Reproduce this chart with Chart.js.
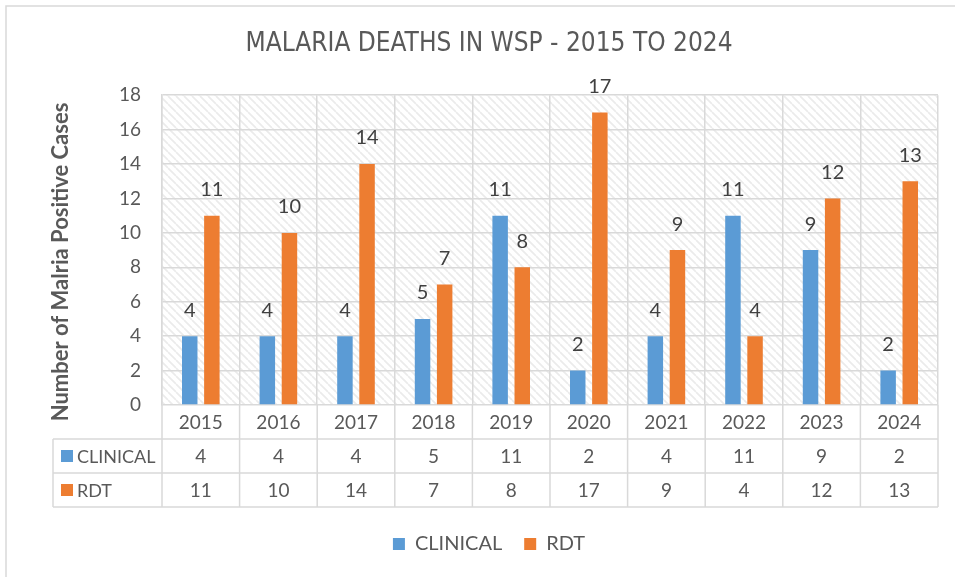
<!DOCTYPE html>
<html>
<head>
<meta charset="utf-8">
<script src="https://cdn.jsdelivr.net/npm/chart.js@4.4.1/dist/chart.umd.min.js"></script>
<style>
	html, body { margin: 0; padding: 0; background: #fff; }
	#chart-malaria { display: block; }
</style>
</head>
<body>
<canvas id="chart-malaria" width="955" height="577"></canvas>
<script>
// Data
const YEARS = ["2015", "2016", "2017", "2018", "2019", "2020", "2021", "2022", "2023", "2024"];
const CLINICAL = [4, 4, 4, 5, 11, 2, 4, 11, 9, 2];
const RDT = [11, 10, 14, 7, 8, 17, 9, 4, 12, 13];
const Y_MIN = 0;
const Y_MAX = 18;
const Y_STEP = 2;

const BLUE = "#5b9bd5";
const ORANGE = "#ed7d31";
const GRID = "#d9d9d9";
const TEXT = "#595959";
const FONT = "Lato, 'Open Sans', sans-serif";

// Hatched plot background
const makeHatch = () => {
	const tile = document.createElement("canvas");
	tile.width = 8;
	tile.height = 8;
	const c = tile.getContext("2d");
	c.fillStyle = "#ffffff";
	c.fillRect(0, 0, 8, 8);
	c.strokeStyle = "#ebebeb";
	c.lineWidth = 1.7;
	[-8, 0, 8].forEach((o) => {
		c.beginPath();
		c.moveTo(o, 0);
		c.lineTo(o + 8, 8);
		c.stroke();
	});
	return tile;
};

const hatchPlugin = {
	id: "hatch",
	beforeDraw(chart) {
		const { ctx, chartArea: a } = chart;
		ctx.save();
		// outer card border
		ctx.strokeStyle = GRID;
		ctx.lineWidth = 1.5;
		ctx.strokeRect(6, 6, 980, 600);
		ctx.fillStyle = ctx.createPattern(makeHatch(), "repeat");
		ctx.fillRect(a.left, a.top, a.right - a.left, a.bottom - a.top);
		ctx.restore();
	},
};

// Data labels, axis title and data table
const tablePlugin = {
	id: "dataTable",
	afterDraw(chart) {
		const { ctx, chartArea: a, scales } = chart;
		const x = scales.x;
		const n = YEARS.length;
		const cat = (a.right - a.left) / n;
		const rowH = 34;
		const tableLeft = 53;
		const r1 = a.bottom + rowH;
		const r2 = r1 + rowH;
		const r3 = r2 + rowH;

		ctx.save();

		// value labels above bars
		ctx.font = "20px " + FONT;
		ctx.fillStyle = "#404040";
		ctx.textAlign = "center";
		ctx.textBaseline = "middle";
		chart.data.datasets.forEach((ds, di) => {
			chart.getDatasetMeta(di).data.forEach((bar, i) => {
				ctx.fillText(String(ds.data[i]), bar.x, bar.y - 26);
			});
		});

		// table grid
		ctx.strokeStyle = GRID;
		ctx.lineWidth = 1.5;
		ctx.beginPath();
		ctx.moveTo(tableLeft, r1);
		ctx.lineTo(a.right, r1);
		ctx.moveTo(tableLeft, r2);
		ctx.lineTo(a.right, r2);
		ctx.moveTo(tableLeft, r3);
		ctx.lineTo(a.right, r3);
		ctx.moveTo(tableLeft, r1);
		ctx.lineTo(tableLeft, r3);
		for (let i = 0; i <= n; i++) {
			const gx = a.left + i * cat;
			ctx.moveTo(gx, a.bottom);
			ctx.lineTo(gx, r3);
		}
		ctx.stroke();

		// table text
		ctx.font = "19px " + FONT;
		ctx.fillStyle = TEXT;
		ctx.textAlign = "center";
		YEARS.forEach((yr, i) => {
			const cx = x.getPixelForValue(i);
			ctx.fillText(yr, cx, a.bottom + rowH / 2 + 1);
			ctx.fillText(String(CLINICAL[i]), cx, r1 + rowH / 2 + 1);
			ctx.fillText(String(RDT[i]), cx, r2 + rowH / 2 + 1);
		});

		// row headers with legend keys
		ctx.textAlign = "left";
		ctx.font = "18px " + FONT;
		[["CLINICAL", BLUE, r1], ["RDT", ORANGE, r2]].forEach(([label, color, top]) => {
			ctx.fillStyle = color;
			ctx.fillRect(61, top + rowH / 2 - 6, 12, 12);
			ctx.fillStyle = TEXT;
			ctx.fillText(label, 77, top + rowH / 2 + 1);
		});

		// y axis title
		ctx.translate(61, 262);
		ctx.rotate(-Math.PI / 2);
		ctx.font = "bold 22px " + FONT;
		ctx.textAlign = "center";
		ctx.fillText("Number of Malria Positive Cases", 0, 0);

		ctx.restore();
	},
};

const CHART_DATA = {
	labels: YEARS,
	datasets: [
		{
			label: "CLINICAL",
			data: CLINICAL,
			backgroundColor: BLUE,
			borderWidth: 0,
			categoryPercentage: 0.57,
			barPercentage: 0.7,
		},
		{
			label: "RDT",
			data: RDT,
			backgroundColor: ORANGE,
			borderWidth: 0,
			categoryPercentage: 0.57,
			barPercentage: 0.7,
		},
	],
};

const CHART_CONFIG = {
	type: "bar",
	data: CHART_DATA,
	options: {
		responsive: false,
		animation: false,
		layout: {
			padding: { left: 40, right: 17, top: 0, bottom: 13 },
		},
		scales: {
			x: {
				grid: { display: true, color: GRID, lineWidth: 1.5, drawTicks: false, offset: true },
				border: { display: false },
				ticks: { display: false },
				afterFit: (scale) => {
					scale.height = 107;
				},
			},
			y: {
				min: Y_MIN,
				max: Y_MAX,
				grid: { color: GRID, lineWidth: 1.5, drawTicks: false },
				border: { display: true, color: GRID, width: 1.5 },
				ticks: {
					stepSize: Y_STEP,
					padding: 21,
					color: TEXT,
					font: { size: 19, family: FONT },
				},
				afterFit: (scale) => {
					scale.width = 122;
				},
			},
		},
		plugins: {
			title: {
				display: true,
				text: "MALARIA DEATHS IN WSP - 2015 TO 2024",
				color: TEXT,
				font: { size: 26, weight: "normal", family: "'DejaVu Sans Condensed', 'Liberation Sans Narrow', sans-serif" },
				padding: { top: 29, bottom: 35 },
			},
			legend: {
				position: "bottom",
				labels: {
					boxWidth: 12,
					boxHeight: 12,
					padding: 22,
					color: TEXT,
					font: { size: 20, family: FONT },
				},
			},
			tooltip: { enabled: false },
		},
	},
	plugins: [hatchPlugin, tablePlugin],
};

new Chart(document.getElementById("chart-malaria"), CHART_CONFIG);
</script>
</body>
</html>
